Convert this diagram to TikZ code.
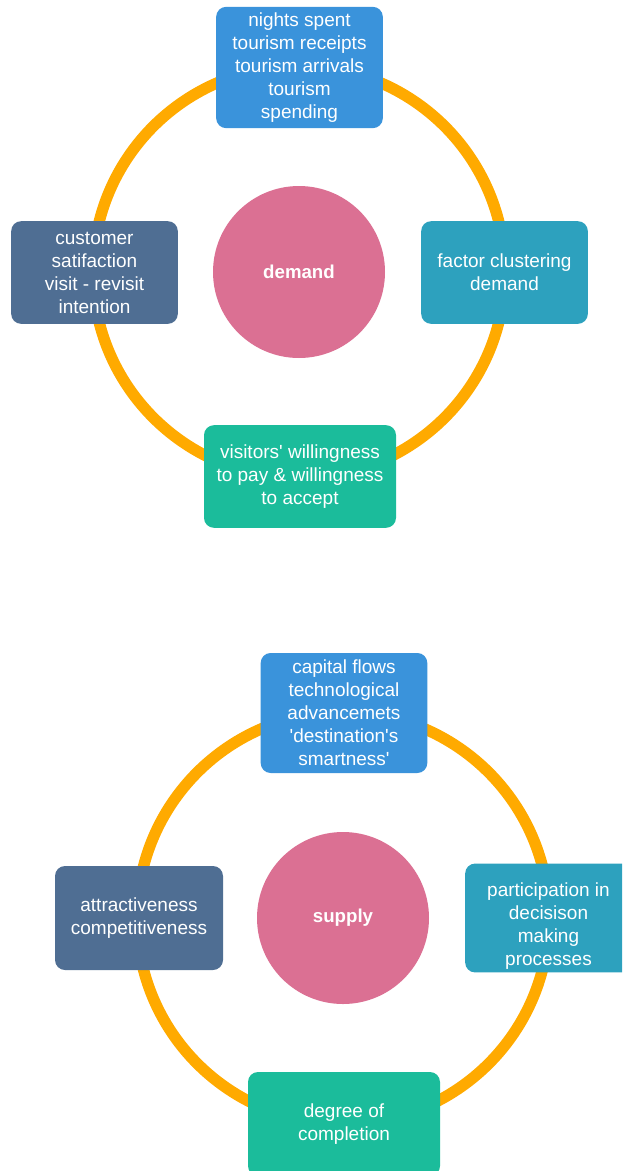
\documentclass[tikz,border=0pt]{standalone}
\usepackage{fontspec}
\setmainfont{Liberation Sans}
\usepackage{tikz}
\usetikzlibrary{positioning}

\definecolor{ringorange}{HTML}{FFAA00}
\definecolor{topblue}{HTML}{3A93DB}
\definecolor{slateblue}{HTML}{4F6E93}
\definecolor{tealblue}{HTML}{2DA1BE}
\definecolor{seagreen}{HTML}{1BBC9B}
\definecolor{hubpink}{HTML}{DB7093}

\tikzset{
  box/.style={rectangle, rounded corners=7.5pt, text=white, align=center,
    inner sep=2pt, font=\fontsize{14.25}{17.25}\selectfont},
  hub/.style={circle, fill=hubpink, text=white, minimum size=129pt,
    font=\bfseries\fontsize{14}{17}\selectfont},
  ring/.style={draw=ringorange, line width=8.5pt},
}

\begin{document}
\begin{tikzpicture}[x=0.75pt, y=-0.75pt]
\useasboundingbox (0,0) rectangle (622,1171);
\clip (0,0) rectangle (622,1171);

\coordinate (dcen) at (299,272);
\coordinate (scen) at (343,918);

\draw[ring] (dcen) circle[radius=154.5pt];
\draw[ring] (scen) circle[radius=154.5pt];

\node[hub] (demand) at (dcen) {demand};
\node[box, fill=topblue, minimum width=125pt, minimum height=91pt] (dtop) at (299.5,67.5)
  {nights spent\\tourism receipts\\tourism arrivals\\tourism\\spending};
\node[box, fill=slateblue, minimum width=125pt, minimum height=77pt] (dleft) at (94.5,272.5)
  {customer\\satifaction\\visit - revisit\\intention};
\node[box, fill=tealblue, minimum width=125pt, minimum height=77pt] (dright) at (504.5,272.5)
  {factor clustering\\demand};
\node[box, fill=seagreen, minimum width=144pt, minimum height=77pt] (dbottom) at (300,476.5)
  {visitors\textquotesingle{} willingness\\to pay \& willingness\\to accept};

\node[hub] (supply) at (scen) {supply};
\node[box, fill=topblue, minimum width=125pt, minimum height=90pt] (stop) at (344,713)
  {capital flows\\technological\\advancemets\\\textquotesingle destination\textquotesingle s\\smartness\textquotesingle};
\node[box, fill=slateblue, minimum width=126pt, minimum height=78pt] (sleft) at (139,918)
  {attractiveness\\competitiveness};
\node[box, fill=tealblue, minimum width=125pt, minimum height=78pt] (sright) at (548.5,918)
  {\rule{0pt}{23pt}participation in\\decisison\\making\\processes};
\node[box, fill=seagreen, minimum width=144pt, minimum height=78pt] (sbottom) at (344,1124)
  {degree of\\completion};
\end{tikzpicture}
\end{document}
